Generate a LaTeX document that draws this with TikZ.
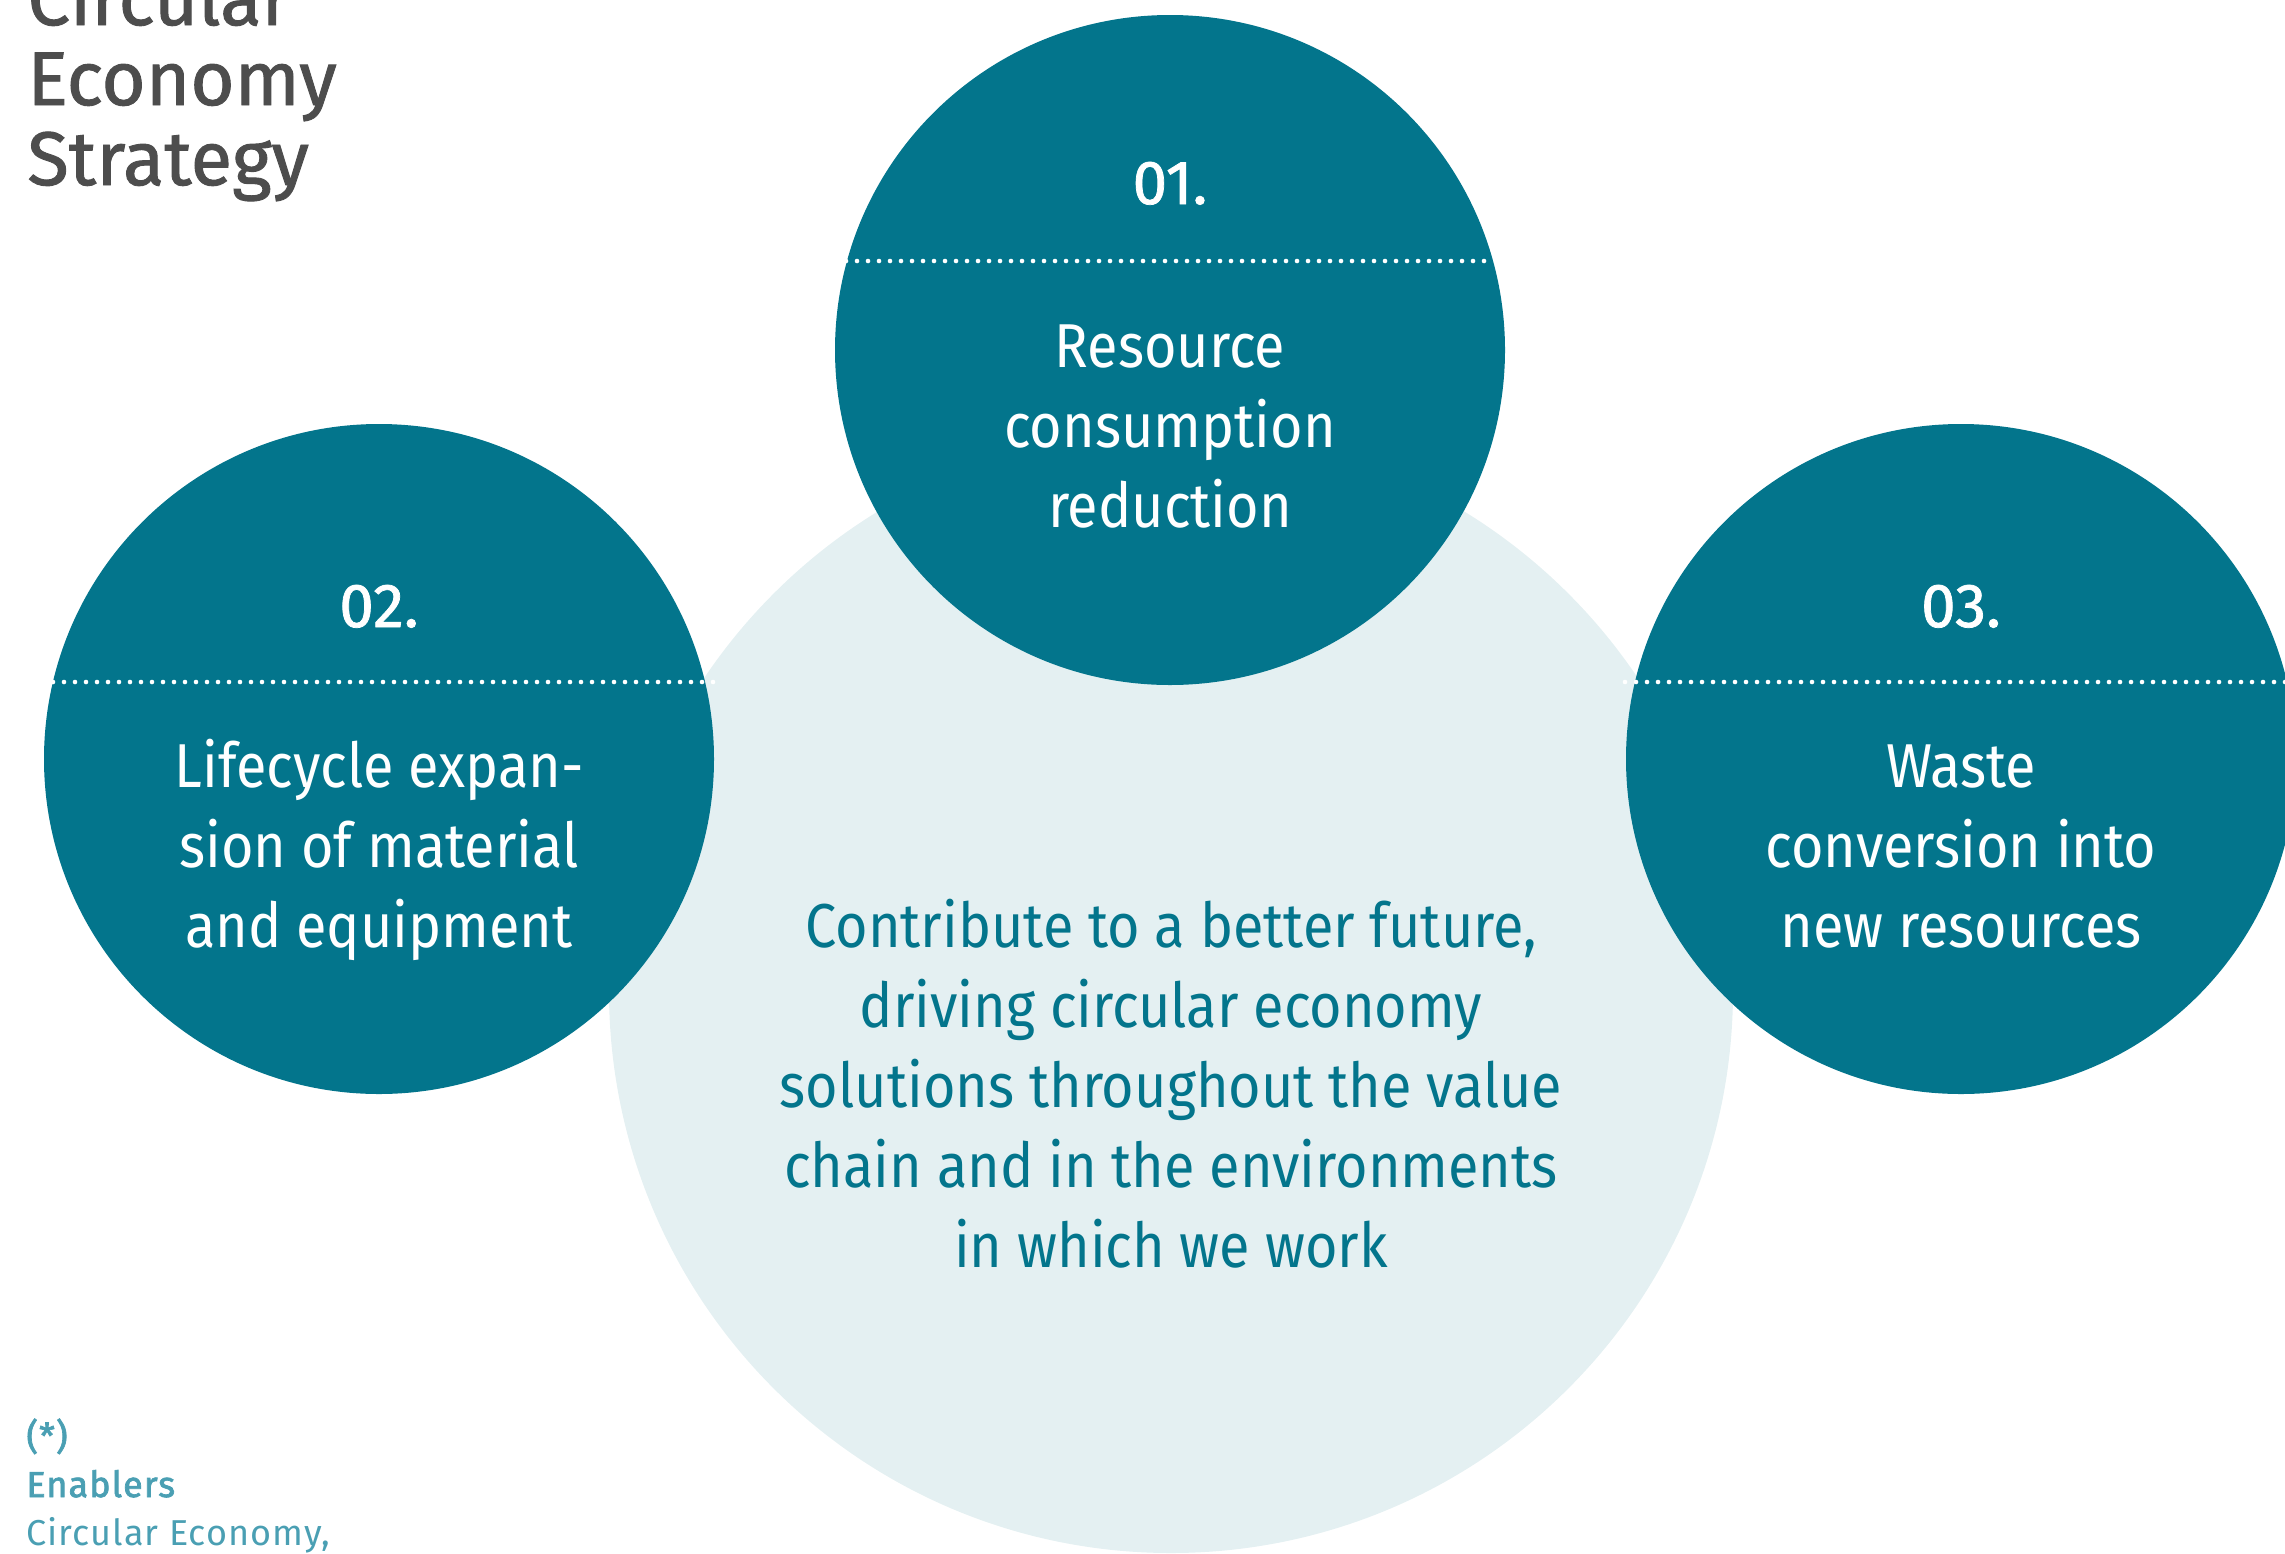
\documentclass[tikz,border=0pt]{standalone}
\usepackage{fontspec}
\setmainfont{Fira Sans}
\newfontfamily\firalight{Fira Sans}[FakeStretch=0.9]
\newfontfamily\firamedium{Fira Sans}[FakeBold=1.2]
\newfontfamily\firanote{Fira Sans}[LetterSpace=3]
\newfontfamily\firanotebold{Fira Sans}[FakeBold=2,LetterSpace=3]
\usetikzlibrary{calc}

\definecolor{petrol}{HTML}{03758C}
\definecolor{mist}{HTML}{E4F0F2}
\definecolor{slate}{HTML}{4D4D4D}
\definecolor{aqua}{HTML}{4A9FB3}

\tikzset{
  pillar/.style={circle, fill=petrol, minimum size=335pt, inner sep=0pt},
  hub/.style={circle, fill=mist, minimum size=562pt, inner sep=0pt},
  dotline/.style={white, line width=2.3pt, line cap=round, dash pattern=on 0pt off 5.5pt},
  numlabel/.style={text=white, anchor=base, font=\firamedium\fontsize{31}{40}\selectfont},
  pillartext/.style={text=white, anchor=base, align=center,
    font=\firalight\fontsize{31}{40}\selectfont},
  coretext/.style={text=petrol, anchor=base, align=center,
    font=\firalight\fontsize{31}{40}\selectfont},
}

\begin{document}
\begin{tikzpicture}[x=0.5pt,y=-0.5pt]
\useasboundingbox (0,0) rectangle (2285,1553);
\clip (0,0) rectangle (2285,1553);

% background hub and the three strategy circles
\node[hub] (core) at (1171,991) {};
\node[pillar] (p1) at (1170,350) {};
\node[pillar] (p2) at (379,759) {};
\node[pillar] (p3) at (1961,759) {};

% dotted dividers
\coordinate (d1a) at ($(p1.center)+(-324,-89)$);
\coordinate (d1b) at ($(p1.center)+(324,-89)$);
\coordinate (d2a) at ($(p2.center)+(-326,-77)$);
\coordinate (d2b) at ($(p2.center)+(336,-77)$);
\coordinate (d3a) at ($(p3.center)+(-336,-77)$);
\coordinate (d3b) at ($(p3.center)+(336,-77)$);
\draw[dotline] (d1a) -- (d1b);
\draw[dotline] (d2a) -- (d2b);
\draw[dotline] (d3a) -- (d3b);

% numbers
\node[numlabel] (n1) at ($(p1.center)+(0,-146)$) {01.};
\node[numlabel] (n2) at ($(p2.center)+(0,-132)$) {02.};
\node[numlabel] (n3) at ($(p3.center)+(0,-132)$) {03.};

% descriptions (anchored at the baseline of the last line)
\node[pillartext] (t1) at ($(p1.center)+(0,177)$) {Resource\\consumption\\reduction};
\node[pillartext] (t2) at ($(p2.center)+(0,188)$) {Lifecycle expan-\\sion of material\\and equipment};
\node[pillartext] (t3) at ($(p3.center)+(0,188)$) {Waste\\conversion into\\new resources};

\node[coretext] (mission) at (1171,1267) {Contribute to a better future,\\driving circular economy\\solutions throughout the value\\chain and in the environments\\in which we work};

% heading
\node[anchor=base west, align=left, text=slate, inner sep=0pt,
  font=\firamedium\fontsize{38}{40}\selectfont] (title) at (27,185) {Circular\\Economy\\Strategy};

% footnote
\node[anchor=base west, align=left, text=aqua, inner sep=0pt,
  font=\fontsize{18}{24}\selectfont] (note) at (26,1545)
  {{\firanotebold (*)}\\{\firanotebold Enablers}\\{\firanote Circular Economy,}};
\end{tikzpicture}
\end{document}
